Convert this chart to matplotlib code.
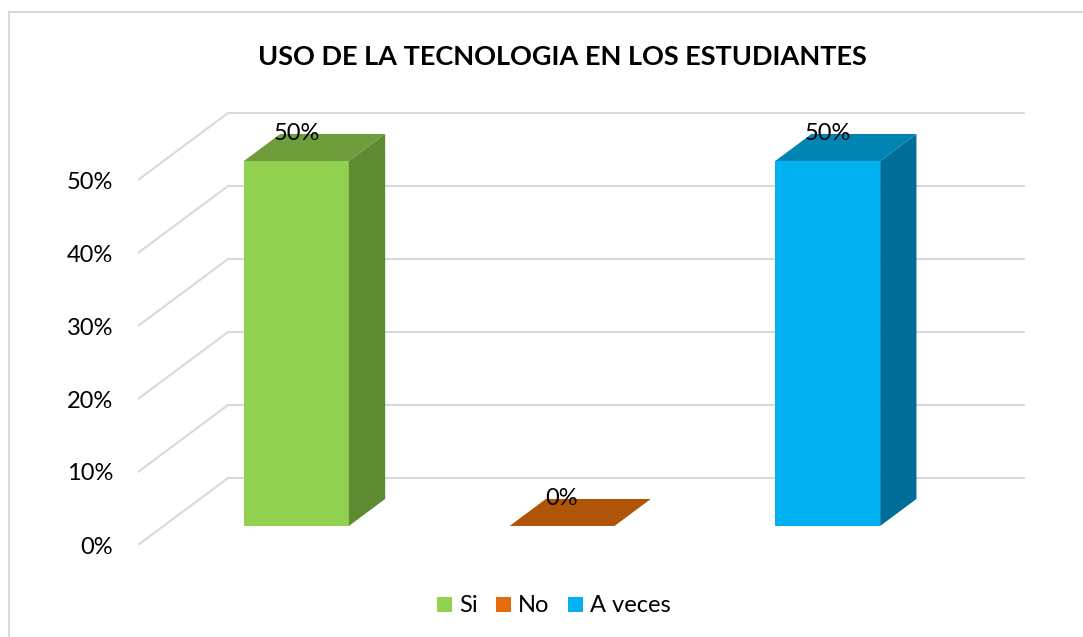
import matplotlib.pyplot as plt
from matplotlib.patches import Polygon, Patch, Rectangle

# data
categories = ["Si", "No", "A veces"]
values = [50, 0, 50]
yticks = [0, 10, 20, 30, 40, 50]
title = "USO DE LA TECNOLOGIA EN LOS ESTUDIANTES"

# colours: front, side, top, legend
front_cols = ["#92d050", "#e46c0a", "#00b0f0"]
side_cols = ["#5e8a31", "#a04c07", "#006e98"]
top_cols = ["#6f9d3c", "#b05407", "#0084b4"]

plt.rcParams["font.family"] = ["Lato", "DejaVu Sans"]

W, H = 1083, 637
fig = plt.figure(figsize=(W / 100, H / 100), dpi=100)

# oblique "3D" projection offsets (depth 0 -> 1) in data units
DX = 0.339
DY = 9.18
Z0, Z1 = 0.284, 0.687   # bar front/back depth
BW = 0.395              # bar width

ax = fig.add_axes([138 / W, (H - 545) / H, 887 / W, 438 / H])
ax.set_xlim(-0.5, 2.5 + DX)
ax.set_ylim(0, 60)
for s in ax.spines.values():
    s.set_visible(False)
ax.set_xticks([])
ax.set_yticks(yticks)
ax.set_yticklabels([f"{v}%" for v in yticks], fontsize=17)
ax.tick_params(axis="y", length=0, pad=18)

grid = "#d9d9d9"
x0, x1 = -0.5, 2.5
for v in yticks:
    # back wall line
    ax.plot([x0 + DX, x1 + DX], [v + DY, v + DY], color=grid, lw=1.5, zorder=1)
    # side wall diagonal
    ax.plot([x0, x0 + DX], [v, v + DY], color=grid, lw=1.5, zorder=1)


def shift(x, y, z):
    return (x + z * DX, y + z * DY)


for i, v in enumerate(values):
    l, r = i - BW / 2, i + BW / 2
    front = [shift(l, 0, Z0), shift(r, 0, Z0), shift(r, v, Z0), shift(l, v, Z0)]
    side = [shift(r, 0, Z0), shift(r, 0, Z1), shift(r, v, Z1), shift(r, v, Z0)]
    top = [shift(l, v, Z0), shift(r, v, Z0), shift(r, v, Z1), shift(l, v, Z1)]
    if v > 0:
        ax.add_patch(Polygon(front, closed=True, fc=front_cols[i], ec="none", zorder=3))
        ax.add_patch(Polygon(side, closed=True, fc=side_cols[i], ec="none", zorder=3))
    ax.add_patch(Polygon(top, closed=True, fc=top_cols[i], ec="none", zorder=3))
    fy = shift(i, v, Z1)[1]
    ax.text(shift(i, v, Z0)[0], fy, f"{v}%", ha="center", va="center",
            fontsize=17, color="black", zorder=5)

fig.text(562 / W, 1 - 57 / H, title, ha="center", va="center",
         fontsize=19.5, fontweight="bold")

handles = [Patch(fc=c, ec="none") for c in front_cols]
fig.legend(handles, categories, loc="center", bbox_to_anchor=(554 / W, 1 - 606 / H),
           ncol=3, frameon=False, fontsize=17, handlelength=0.62, handleheight=0.62,
           handletextpad=0.3, columnspacing=0.8)

# chart area border
fig.patches.append(Rectangle((9 / W, -0.1), 1.2, 1 - 12 / H + 0.1,
                             transform=fig.transFigure, fill=False,
                             ec="#d9d9d9", lw=1.5))

fig.savefig("out.png", dpi=100)
